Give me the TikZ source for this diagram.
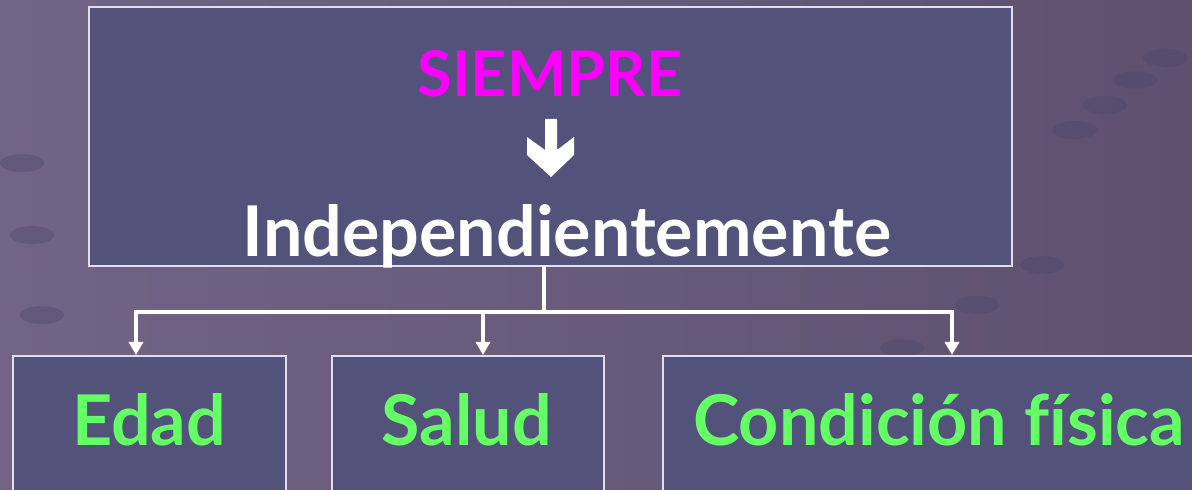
\documentclass[tikz,border=0pt]{standalone}
\usepackage{fontspec}
\setmainfont{Lato}[Ligatures=NoCommon]
\usetikzlibrary{arrows.meta}
\definecolor{bgA}{RGB}{114,100,134}
\definecolor{bgB}{RGB}{94,80,110}
\definecolor{boxfill}{RGB}{83,82,122}
\definecolor{boxline}{RGB}{226,222,236}
\definecolor{mag}{RGB}{255,0,255}
\definecolor{grn}{RGB}{100,255,100}
\definecolor{dotc}{RGB}{70,70,110}
\tikzset{
  panel/.style={draw=boxline, line width=2pt, fill=boxfill},
  link/.style={draw=white, line width=4.5pt},
  linkarrow/.style={link, -{Triangle[width=14pt,length=13pt]}},
  bigtext/.style={font=\fontsize{70}{70}\selectfont\bfseries, inner sep=0pt, anchor=base},
  bgdot/.style={fill=dotc, opacity=0.35}
}
\begin{document}
\begin{tikzpicture}[x=1pt,y=1pt]
\useasboundingbox (0,0) rectangle (1192,490);
\begin{scope}
\clip (0,0) rectangle (1192,490);
\shade[left color=bgA, right color=bgB] (0,0) rectangle (1192,490);
% faint background dots
\foreach \px/\py in {1042/225, 977/185, 902/142, 1105/385, 1135/410, 1165/432, 1075/360, 22/327, 32/255, 42/175}
  \fill[bgdot] (\px,\py) ellipse (22pt and 9pt);
% top panel
\path[panel] (89,483) rectangle (1012,224);
\node (top) at (550.5,353.5) {};
\node[bigtext, text=mag, font=\fontsize{63}{63}\selectfont\bfseries] (siempre) at (550,393) {SIEMPRE};
\fill[white] (545,371) -- (557,371) -- (557,340) -- (574,353) -- (574,335) -- (551,313) -- (527,335) -- (527,353) -- (545,340) -- cycle;
\node[bigtext, text=white] (indep) at (567,233) {Independientemente};
% bottom panels
\path[panel] (13,134) rectangle (286,-10);
\path[panel] (332,134) rectangle (604,-10);
\path[panel] (663,134) rectangle (1210,-10);
\node[bigtext, text=grn] (edad) at (149,44) {Edad};
\node[bigtext, text=grn] (salud) at (467,44) {Salud};
\node[bigtext, text=grn] (cond) at (939,44) {Condición f{}ísica};
% connectors
\coordinate (tb) at (544,224);
\coordinate (j) at (544,178);
\coordinate (eL) at (136,178);
\coordinate (sL) at (483,178);
\coordinate (cL) at (952,178);
\coordinate (eT) at (136,135);
\coordinate (sT) at (483,135);
\coordinate (cT) at (952,135);
\draw[link] (tb) -- (j);
\draw[link, line cap=rect] (eL) -- (cL);
\draw[linkarrow] (eL) -- (eT);
\draw[linkarrow] (sL) -- (sT);
\draw[linkarrow] (cL) -- (cT);
\end{scope}
\end{tikzpicture}
\end{document}
